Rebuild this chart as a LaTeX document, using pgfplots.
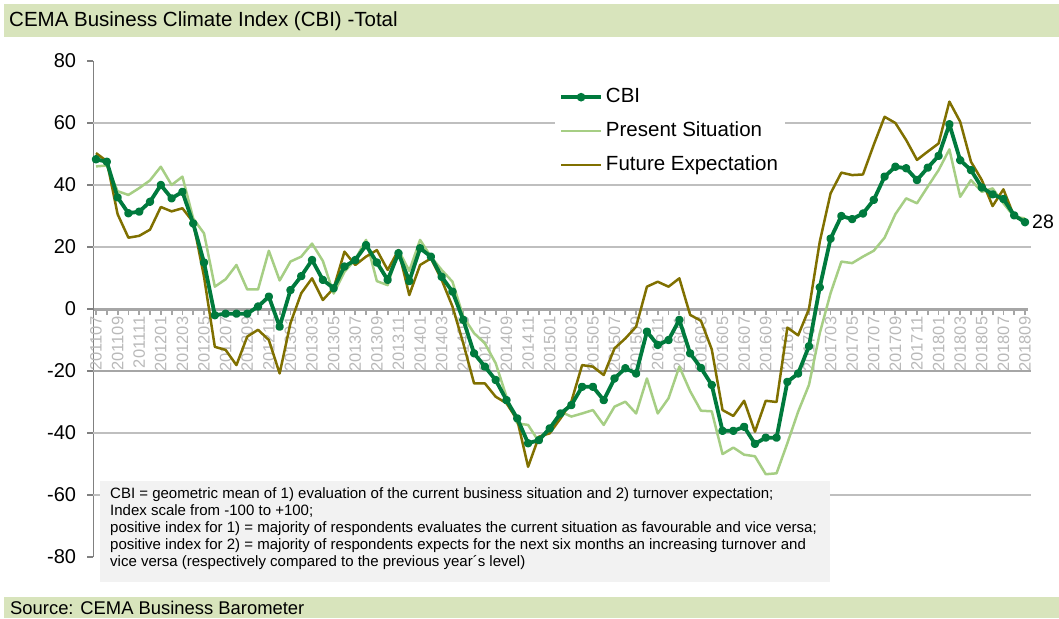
\documentclass[border=0pt]{standalone}
\usepackage{fontspec}
\setmainfont{Liberation Sans}
\usepackage{pgfplots}
\pgfplotsset{compat=1.18}
\usepackage{pgfplotstable}
\definecolor{cbi}{RGB}{0,122,61}
\definecolor{ps}{RGB}{166,206,132}
\definecolor{fe}{RGB}{128,112,0}
\definecolor{band}{RGB}{216,228,188}
\definecolor{boxgray}{RGB}{242,242,242}
\definecolor{gridc}{RGB}{191,191,191}
\definecolor{axgray}{RGB}{166,166,166}
\definecolor{yaxgray}{RGB}{128,128,128}
\definecolor{ticklab}{RGB}{185,185,185}

\pgfplotstableread{
i cbi ps fe
0 48.3 46.0 50.3
1 47.5 46.3 47.7
2 36.0 38.0 30.6
3 30.9 36.8 23.0
4 31.4 39.0 23.6
5 34.6 41.5 25.6
6 40.0 45.9 32.9
7 35.7 40.0 31.5
8 37.8 42.7 32.5
9 27.6 29.2 28.0
10 15.0 24.4 10.4
11 -2.0 7.2 -12.2
12 -1.5 9.6 -13.2
13 -1.5 14.2 -18.1
14 -1.5 6.3 -8.9
15 0.8 6.3 -6.7
16 4.0 18.8 -10.0
17 -5.7 9.2 -20.8
18 6.1 15.3 -4.6
19 10.6 16.9 5.1
20 15.8 21.1 9.9
21 9.4 15.5 2.9
22 6.7 5.0 6.7
23 13.7 12.0 18.5
24 15.8 16.0 14.2
25 20.6 22.3 16.9
26 15.0 9.0 19.0
27 9.4 7.7 12.6
28 18.0 19.0 19.0
29 9.0 12.3 4.5
30 19.6 22.3 14.2
31 16.9 16.9 16.3
32 10.4 12.6 9.4
33 5.6 8.8 0.8
34 -3.5 -2.5 -11.1
35 -14.3 -7.8 -24.0
36 -18.6 -11.1 -24.0
37 -22.9 -17.5 -28.3
38 -29.4 -28.3 -30.4
39 -35.3 -36.9 -35.8
40 -43.3 -37.4 -50.9
41 -42.3 -42.8 -41.2
42 -38.5 -38.5 -40.1
43 -33.7 -33.1 -35.3
44 -31.0 -34.7 -29.9
45 -25.1 -33.7 -18.1
46 -25.1 -32.6 -18.6
47 -29.4 -37.4 -21.3
48 -22.4 -31.5 -12.7
49 -19.1 -29.9 -9.5
50 -20.8 -33.7 -5.7
51 -7.3 -22.4 7.2
52 -11.6 -33.7 8.8
53 -10.0 -28.8 7.2
54 -3.5 -18.6 9.9
55 -14.3 -26.5 -1.9
56 -19.0 -32.8 -3.8
57 -24.5 -33.0 -13.0
58 -39.3 -46.8 -32.6
59 -39.3 -44.7 -34.5
60 -38.0 -47.0 -29.6
61 -43.5 -47.5 -39.6
62 -41.5 -53.3 -29.6
63 -41.5 -53.0 -30.0
64 -23.5 -43.3 -6.0
65 -20.8 -33.1 -8.5
66 -12.0 -24.5 0.0
67 7.0 -7.8 21.7
68 22.7 5.1 37.3
69 30.0 15.3 44.0
70 29.0 14.8 43.2
71 30.8 16.9 43.4
72 35.2 18.8 53.0
73 42.7 23.0 62.0
74 45.9 30.6 60.0
75 45.4 35.7 54.5
76 41.6 34.1 48.1
77 45.6 39.5 50.8
78 49.4 44.8 53.4
79 59.6 51.5 66.9
80 48.0 36.2 60.4
81 44.8 41.6 47.5
82 39.2 37.8 41.6
83 37.0 38.9 33.2
84 35.5 34.1 38.6
85 30.2 29.8 29.8
86 28.0 29.2 28.2
}\data

\begin{document}
\begin{tikzpicture}[x=1pt,y=1pt]
\useasboundingbox (0,0) rectangle (1059,-618);
\fill[band] (4,-4) rectangle (1059,-37);
\node[anchor=west, inner sep=0pt, font=\fontsize{20.5}{20.5}\selectfont] at (9,-21) {CEMA Business Climate Index (CBI) -Total};
\fill[band] (4,-597) rectangle (1059,-618);
\node[anchor=west, inner sep=0pt, font=\fontsize{18.4}{18.4}\selectfont] at (10,-608) {Source: CEMA Business Barometer};

\begin{axis}[
  at={(93.3pt,-557pt)}, anchor=south west,
  scale only axis, width=934.4pt, height=496pt,
  xmin=-0.25, xmax=86.25, ymin=-80, ymax=80,
  axis x line=middle, axis y line=left,
  x axis line style={-, draw=axgray, line width=3pt},
  y axis line style={-, draw=yaxgray, line width=1.6pt},
  hide obscured x ticks=false, hide obscured y ticks=false,
  xtick={0,2,...,86}, minor xtick={1,3,...,85},
  xticklabels={201107,201109,201111,201201,201203,201205,201207,201209,201211,201301,201303,201305,201307,201309,201311,201401,201403,201405,201407,201409,201411,201501,201503,201505,201507,201509,201511,201601,201603,201605,201607,201609,201611,201701,201703,201705,201707,201709,201711,201801,201803,201805,201807,201809},
  ytick={-80,-60,...,80},
  yticklabels={-80,-60,-40,-20,0,20,40,60,80},
  xtick align=outside, ytick align=outside,
  major tick length=6pt, minor tick length=6pt,
  every x tick/.style={draw=axgray, line width=1.8pt},
  every minor x tick/.style={draw=axgray, line width=1.8pt},
  every y tick/.style={draw=yaxgray, line width=1.3pt},
  x tick label style={rotate=90, anchor=east, text=ticklab, font=\fontsize{16.5}{16.5}\selectfont, inner sep=1.5pt},
  y tick label style={font=\fontsize{20}{20}\selectfont, inner sep=3pt, xshift=-8pt},
  clip=false,
  legend style={at={(0.4941,0.9577)}, anchor=north west, draw=none, fill=white,
    font=\fontsize{20.5}{20.5}\selectfont, row sep=10pt, inner xsep=4pt, inner ysep=3pt,
    nodes={inner sep=3pt, text height=14pt, text depth=4pt}},
  legend cell align=left,
  legend image code/.code={\draw[mark repeat=2,mark phase=2,#1] plot coordinates {(0pt,0pt) (20pt,0pt) (40pt,0pt)};},
]
\draw[gridc, line width=2pt] (axis cs:-0.25,60) -- (axis cs:86.6,60);
\draw[gridc, line width=2pt] (axis cs:-0.25,40) -- (axis cs:86.6,40);
\draw[gridc, line width=2pt] (axis cs:-0.25,20) -- (axis cs:86.6,20);
\draw[axgray, line width=2.8pt] (axis cs:-0.25,-20) -- (axis cs:86.6,-20);
\draw[gridc, line width=2pt] (axis cs:-0.25,-40) -- (axis cs:86.6,-40);
\draw[gridc, line width=2pt] (axis cs:-0.25,-60) -- (axis cs:86.6,-60);
\addplot[ps, line width=2.5pt, line join=round, forget plot] table[x=i,y=ps] {\data};
\addplot[fe, line width=2.5pt, line join=round, forget plot] table[x=i,y=fe] {\data};
\addplot[cbi, line width=3.8pt, line join=round, mark=*, mark size=2.3pt, forget plot] table[x=i,y=cbi] {\data};
\addlegendimage{cbi, line width=3.8pt, mark=*, mark size=2.3pt}
\addlegendentry{CBI}
\addlegendimage{ps, line width=2.5pt}
\addlegendentry{Present Situation}
\addlegendimage{fe, line width=2.5pt}
\addlegendentry{Future Expectation}
\node[anchor=west, inner sep=0pt, font=\fontsize{19.5}{19.5}\selectfont] at (axis cs:86,28) [xshift=7pt] {28};
\end{axis}

\fill[boxgray] (100,-481) rectangle (830,-582);
\node[anchor=north west, inner sep=0pt, align=left, font=\fontsize{15}{17}\selectfont] at (110,-487)
{CBI = geometric mean of 1) evaluation of the current business situation and 2) turnover expectation;\\
Index scale from -100 to +100;\\
positive index for 1) = majority of respondents evaluates the current situation as favourable and vice versa;\\
positive index for 2) = majority of respondents expects for the next six months an increasing turnover and\\
vice versa (respectively compared to the previous year´s level)};
\end{tikzpicture}
\end{document}
